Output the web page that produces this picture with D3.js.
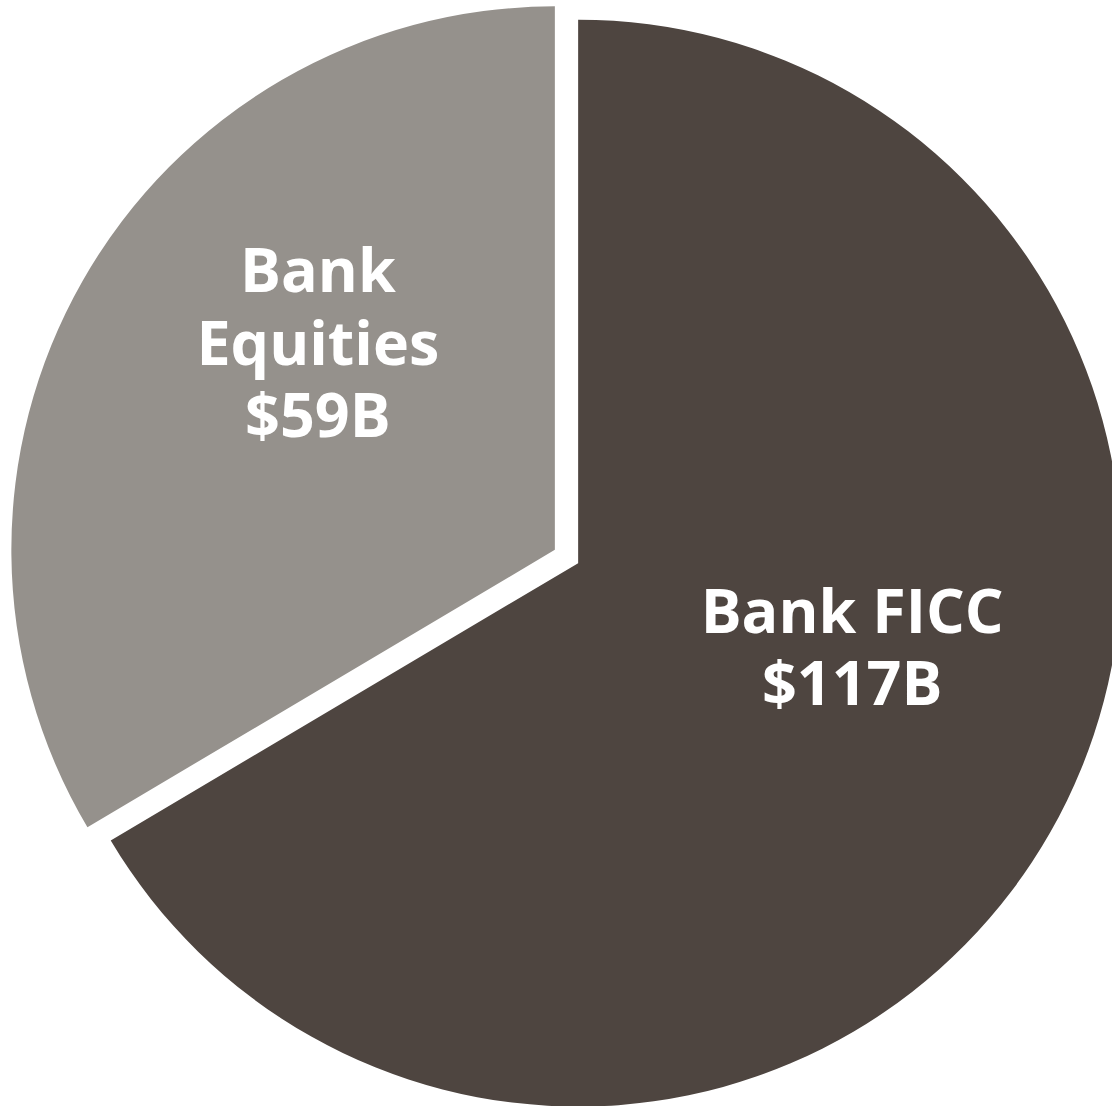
<!DOCTYPE html>
<html>
<head>
<meta charset="utf-8">
<script src="https://cdn.jsdelivr.net/npm/d3@7"></script>
<style>
  html, body { margin: 0; padding: 0; background: #ffffff; overflow: hidden; }
  svg { display: block; }
  text { font-variant-ligatures: none; }
</style>
</head>
<body>
<svg id="chart" width="1112" height="1106"></svg>
<script>
// Revenue split, in $ billions
const categories = ["Bank FICC", "Bank Equities"];
const values = [117, 59];
const labelLines = [["Bank FICC", "$117B"], ["Bank", "Equities", "$59B"]];
const colors = ["#4e4540", "#95918c"];

const width = 1112, height = 1106;
const cx = 566.5, cy = 556.5;   // pie centre before slices are pulled out
const radius = 543.5;
const explode = 13.4;           // distance each slice is pulled along its mid-angle

// label block centre, relative to the exploded slice's own centre
const labelOffset = [[274, 84], [-237, -207]];
const fontSize = 61, lineGap = 72.5, capRatio = 0.714;

const svg = d3.select("#chart");

const pie = d3.pie().sort(null).value(d => d.value);
const arc = d3.arc().innerRadius(0).outerRadius(radius);

const data = categories.map((c, i) => ({ name: c, value: values[i], i }));
const arcs = pie(data);

const g = svg.append("g").attr("transform", `translate(${cx},${cy})`);

const slice = g.selectAll("g.slice")
  .data(arcs)
  .join("g")
  .attr("class", "slice")
  .attr("transform", d => {
    const mid = (d.startAngle + d.endAngle) / 2;
    return `translate(${Math.sin(mid) * explode},${-Math.cos(mid) * explode})`;
  });

slice.append("path")
  .attr("d", arc)
  .attr("fill", d => colors[d.data.i]);

slice.each(function (d) {
  const lines = labelLines[d.data.i];
  const [ox, oy] = labelOffset[d.data.i];
  const capH = fontSize * capRatio;
  const blockH = (lines.length - 1) * lineGap + capH;
  const firstBase = oy - blockH / 2 + capH;
  const t = d3.select(this).append("text")
    .attr("text-anchor", "middle")
    .attr("fill", "#ffffff")
    .attr("font-family", "'Open Sans', Lato, sans-serif")
    .attr("font-weight", 700)
    .attr("font-size", fontSize);
  lines.forEach((ln, k) => {
    t.append("tspan")
      .attr("x", ox)
      .attr("y", firstBase + k * lineGap)
      .text(ln);
  });
});
</script>
</body>
</html>
